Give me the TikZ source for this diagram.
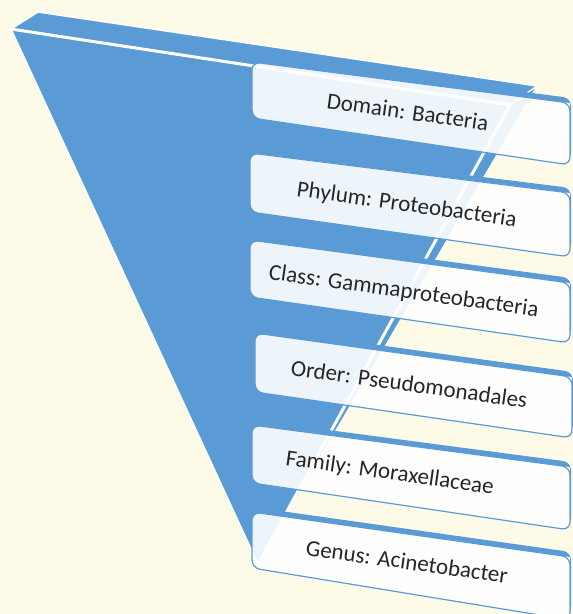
\documentclass[tikz,border=0pt]{standalone}
\usepackage{fontspec}
\setmainfont{Carlito}
\usetikzlibrary{calc}
\definecolor{cream}{HTML}{FEFAE8}
\definecolor{fblue}{HTML}{5B9BD5}
\tikzset{
  lvltext/.style={font=\fontsize{23}{28}\selectfont, text=black!85, rotate=-8, anchor=base west, inner sep=0pt},
  boxfront/.style={fill=white, fill opacity=0.9, draw=fblue, line width=1.2pt, rounded corners=8pt},
  boxback/.style={fill=fblue, rounded corners=8pt},
  whiteedge/.style={draw=white, line cap=round, line join=round},
}
\newcommand\taxbox[5]{% TL TR BR BL name
  \coordinate (#5tl) at #1; \coordinate (#5tr) at #2;
  \coordinate (#5br) at #3; \coordinate (#5bl) at #4;
  \begin{scope}[even odd rule]
    \clip (0,0) rectangle (573,614) (#5tl) -- (#5tr) -- (#5br) -- (#5bl) -- cycle;
    \fill[boxback] ($(#5tl)+(0,-5)$) -- ($(#5tr)+(1,-5)$) -- ($(#5br)+(1,-5)$) -- ($(#5bl)+(0,-5)$) -- cycle;
  \end{scope}
  \path[boxfront] (#5tl) -- (#5tr) -- (#5br) -- (#5bl) -- cycle;
}
\begin{document}
\begin{tikzpicture}[x=1pt,y=-1pt]
\useasboundingbox (0,0) rectangle (573,614);
\clip (0,0) rectangle (573,614);
\fill[cream] (0,0) rectangle (573,614);
% funnel corners
\coordinate (fl) at (11,29);
\coordinate (ft) at (38,12);
\coordinate (fr) at (537,86);
\coordinate (fm) at (510,105);
\coordinate (fa) at (258,564);
% faces
\fill[fblue] (fl) -- (ft) -- (fr) -- (fm) -- cycle;
\fill[fblue] (fl) -- (fm) -- (fa) -- cycle;
\fill[fblue] (fm) -- (fr) -- (fa) -- cycle;
% edges
\draw[whiteedge, line width=1.5pt] (fa) -- (fl) -- (ft) -- (fr);
\draw[whiteedge, line width=3pt] (fl) -- (fm);
\draw[whiteedge, line width=3pt] (fm) -- (fa);
\draw[whiteedge, line width=1pt] (fr) -- (fa);
\draw[whiteedge, line width=1.5pt] (fm) -- (fr);
% boxes
\taxbox{(252,62)}{(570,103)}{(570,165)}{(252,118)}{b1}
\taxbox{(250,153)}{(570,193)}{(570,257)}{(250,212)}{b2}
\taxbox{(250,240)}{(570,283)}{(570,343)}{(250,297)}{b3}
\taxbox{(255,333)}{(572,377)}{(572,438)}{(255,392)}{b4}
\taxbox{(252,425)}{(570,467)}{(570,530)}{(252,483)}{b5}
\taxbox{(252,512)}{(570,557)}{(570,620)}{(252,568)}{b6}
% labels
\node[lvltext] (t1) at (326,108) {Domain: Bacteria};
\node[lvltext] (t2) at (296,196) {Phylum: Proteobacteria};
\node[lvltext] (t3) at (268,279) {Class: Gammaproteobacteria};
\node[lvltext] (t4) at (290,375) {Order: Pseudomonadales};
\node[lvltext] (t5) at (285,465) {Family: Moraxellaceae};
\node[lvltext] (t6) at (305,555) {Genus: Acinetobacter};
\end{tikzpicture}
\end{document}
